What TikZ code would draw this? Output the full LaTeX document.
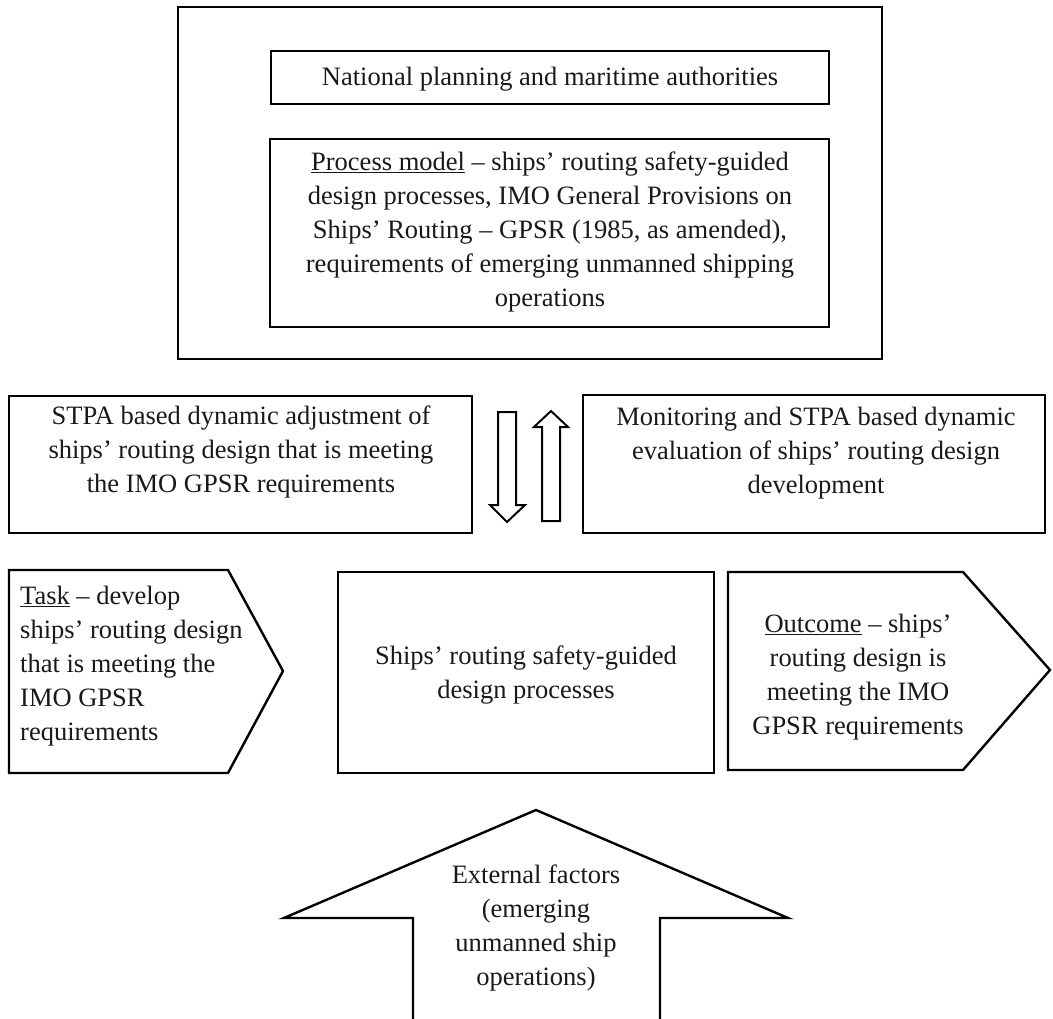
\documentclass[tikz,border=0pt]{standalone}
\usepackage{fontspec}
\setmainfont{Liberation Serif}
\begin{document}
\begin{tikzpicture}[x=1pt,y=-1pt,
  box/.style={draw=black, line width=2.4pt, line join=miter},
  blockarrow/.style={draw=black, line width=2pt, line join=miter},
  txt/.style={align=center, font=\fontsize{26.5}{34}\selectfont, inner sep=0pt, text=black!90}]
\useasboundingbox (0,0) rectangle (1053,1019);
% top group
\draw[box] (178,7) rectangle (882,359);
\draw[box] (271,51) rectangle (829,104);
\node[txt] (nat) at (550,79) {National planning and maritime authorities};
\draw[box] (270,139) rectangle (829,327);
\node[txt] (proc) at (550,232) {\underline{Process model} – ships’ routing safety-guided\\design processes, IMO General Provisions on\\Ships’ Routing – GPSR (1985, as amended),\\requirements of emerging unmanned shipping\\operations};
% middle row
\draw[box] (9,396) rectangle (472,533);
\node[txt] (adj) at (241,452) {STPA based dynamic adjustment of\\ships’ routing design that is meeting\\the IMO GPSR requirements};
\draw[box] (583,395) rectangle (1045,533);
\node[txt] (mon) at (816,453) {Monitoring and STPA based dynamic\\evaluation of ships’ routing design\\development};
% block arrows between the boxes
\draw[blockarrow] (498,412) -- (516,412) -- (516,505) -- (525,505) -- (507,522) -- (490,505) -- (498,505) -- cycle;
\draw[blockarrow] (542,521) -- (560,521) -- (560,427) -- (568,427) -- (551,411) -- (534,427) -- (542,427) -- cycle;
% bottom row
\draw[box] (9,570) -- (228,570) -- (283,671) -- (228,773) -- (9,773) -- cycle;
\node[txt, align=left, anchor=west] (task) at (20,666) {\underline{Task} – develop\\ships’ routing design\\that is meeting the\\IMO GPSR\\requirements};
\draw[box] (338,572) rectangle (714,773);
\node[txt] (proc2) at (526,675) {Ships’ routing safety-guided\\design processes};
\draw[box] (728,572) -- (963,572) -- (1050,670) -- (963,770) -- (728,770) -- cycle;
\node[txt] (out) at (858,677) {\underline{Outcome} – ships’\\routing design is\\meeting the IMO\\GPSR requirements};
% external factors arrow
\draw[box] (413,1030) -- (413,918) -- (284,918) -- (536,810) -- (788,918) -- (660,918) -- (660,1030);
\node[txt] (ext) at (536,928) {External factors\\(emerging\\unmanned ship\\operations)};
\end{tikzpicture}
\end{document}
